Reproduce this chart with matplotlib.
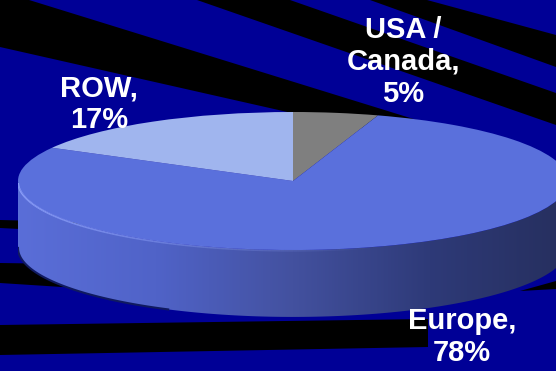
import numpy as np
import matplotlib
matplotlib.use("Agg")
import matplotlib.pyplot as plt
from matplotlib.patches import Polygon
from matplotlib.colors import LinearSegmentedColormap
from matplotlib.collections import LineCollection

# data
regions = ['USA /\nCanada', 'Europe', 'ROW']
shares = [5, 78, 17]
slice_colors = ['#7f7f7f', '#5a70dc', '#a0b5ee']

W, H = 556, 371
fig = plt.figure(figsize=(W / 100, H / 100), dpi=100)
fig.patch.set_facecolor('#000096')

# background: blue with black rays (pixel coords)
bg = fig.add_axes([0, 0, 1, 1])
bg.set_xlim(0, W)
bg.set_ylim(H, 0)
bg.set_facecolor('#000096')
bg.axis('off')
rays = [
    [(0, -9), (420, 121), (420, 142), (0, 47)],
    [(197, 0), (290, 0), (556, 93), (556, 125)],
    [(370, 0), (427, 0), (556, 35), (556, 67)],
    [(0, 220), (80, 222), (80, 232), (0, 228)],
    [(0, 263), (140, 265), (140, 292), (0, 283)],
    [(0, 325), (428, 319), (428, 347), (0, 355)],
    [(520, 291), (556, 281), (556, 289)],
]
for r in rays:
    bg.add_patch(Polygon(r, closed=True, facecolor='black', edgecolor='none'))

# pie axes: unit circle squashed to an ellipse
left_px, right_px, top_px, unit_y = 18, 568, 112, 69
depth = 0.97
ymin = -1 - depth - 0.1
bottom_px = top_px + (1 - ymin) * unit_y
pax = fig.add_axes([left_px / W, (H - bottom_px) / H,
                    (right_px - left_px) / W, (bottom_px - top_px) / H])
pax.patch.set_visible(False)

wedges, _ = pax.pie(shares, colors=slice_colors, startangle=90,
                    counterclock=False, radius=1,
                    wedgeprops=dict(linewidth=0))
pax.set_aspect('auto')
pax.set_xlim(-1, 1)
pax.set_ylim(ymin, 1)
pax.axis('off')

# side wall of the pie (front half)
t = np.linspace(np.pi, 2 * np.pi, 200)
top_edge = np.column_stack([np.cos(t), np.sin(t)])
bot_edge = np.column_stack([np.cos(t[::-1]), np.sin(t[::-1]) - depth])
side = Polygon(np.vstack([top_edge, bot_edge]), closed=True,
               facecolor='none', edgecolor='none')
pax.add_patch(side)
cmap = LinearSegmentedColormap.from_list(
    'side', ['#5a6ed8', '#5063c8', '#43519f', '#2e3a78', '#262f5e'])
grad = np.linspace(0, 1, 256).reshape(1, -1)
im = pax.imshow(grad, cmap=cmap, aspect='auto',
                extent=[-1, 1, -1 - depth, 0], zorder=0.5)
im.set_clip_path(side)

# highlight along the front rim, fading to the right
th = np.linspace(np.pi + 0.02, 1.6 * np.pi, 120)
pts = np.column_stack([np.cos(th), np.sin(th) - 0.01])
segs = np.stack([pts[:-1], pts[1:]], axis=1)
fade = np.linspace(0.9, 0.0, len(segs))
rim = LineCollection(segs, colors=[(0.58, 0.66, 1.0, a) for a in fade],
                     linewidths=1.4, zorder=1.5)
pax.add_collection(rim)

# dark bottom edge on the left
tb = np.linspace(np.pi, 1.35 * np.pi, 100)
pax.plot(np.cos(tb), np.sin(tb) - depth, color='#101a60', lw=1.5,
         zorder=0.6)

# labels
label_pos = [(403, 62), (462, 337), (99, 104)]
for name, val, (x, y) in zip(regions, shares, label_pos):
    pax.text(x, y, f'{name},\n{val}%', transform=bg.transData,
             ha='center', va='center', multialignment='center',
             color='white', fontsize=21, fontweight='bold',
             family='Liberation Sans', linespacing=1.17, zorder=5)

fig.savefig('out.png', dpi=100, facecolor=fig.get_facecolor())
